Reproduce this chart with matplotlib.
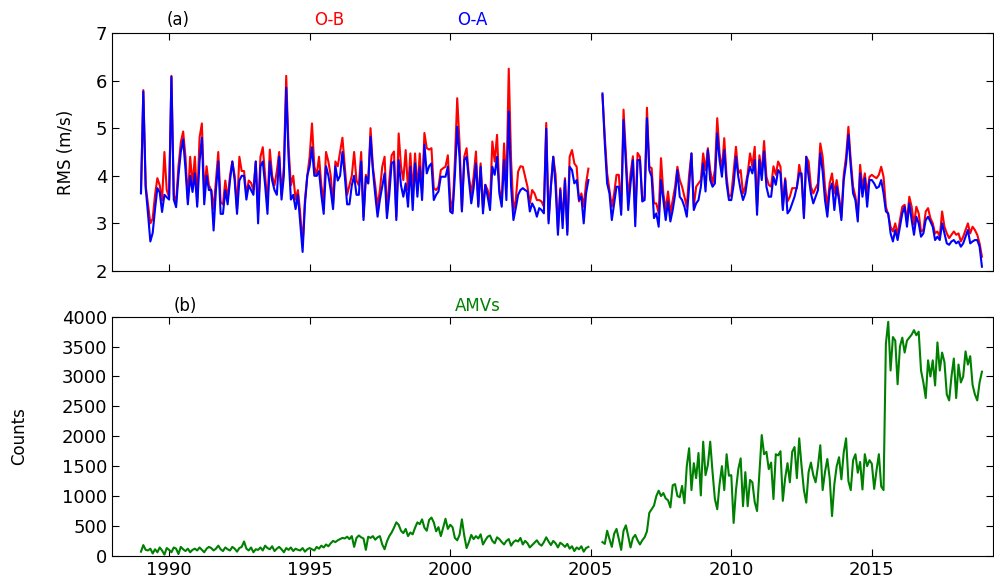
import numpy as np
import matplotlib
matplotlib.use("Agg")
import matplotlib.pyplot as plt

# monthly values, Jan 1989 - Dec 2004 and Jun 2005 - Dec 2018 (gap Jan-May 2005)
ob_1989_2004 = [
    3.65, 5.8, 3.8, 3.4, 3.0, 3.1, 3.6, 3.95, 3.8, 3.48,
    4.5, 3.7, 3.55, 6.1, 3.6, 3.45, 4.2, 4.7, 4.93, 4.4,
    3.5, 4.4, 3.8, 4.4, 3.45, 4.8, 5.1, 3.6, 4.2, 3.8,
    3.7, 3.3, 3.9, 4.5, 3.45, 3.4, 3.9, 3.5, 4.0, 4.3,
    4.0, 3.3, 4.4, 4.1, 4.1, 3.6, 3.9, 3.85, 3.7, 4.3,
    3.2, 4.4, 4.6, 4.0, 3.4, 4.55, 4.0, 3.8, 4.1, 4.5,
    3.6, 4.2, 6.1, 4.6, 3.8, 4.0, 3.5, 3.7, 3.2, 2.55,
    3.5, 4.0, 4.4, 5.1, 4.2, 4.0, 4.4, 3.8, 3.45, 4.5,
    4.3, 4.0, 3.4, 4.3, 4.2, 4.5, 4.8, 4.2, 3.6, 3.8,
    4.0, 4.5, 3.9, 3.8, 4.5,
    3.14, 4.02, 3.84, 5.0, 4.19, 3.8, 3.35, 3.7, 4.19, 4.4,
    3.21, 3.9, 4.43, 4.51, 3.14, 4.89, 4.2, 3.91, 4.54, 3.7,
    4.47, 3.63, 4.47, 3.7, 4.47, 3.63, 4.9, 4.58, 4.55, 4.58,
    3.74, 3.7, 3.77, 4.12, 4.16, 4.19, 4.43, 3.53, 3.25, 4.3,
    5.63, 4.68, 3.28, 4.4, 4.58, 3.98, 3.63, 3.98, 4.51, 3.39,
    4.26, 3.32, 3.81, 3.7, 3.42, 4.72, 4.3, 4.86, 3.7, 3.49,
    4.68, 3.77, 6.25, 4.33, 3.28, 3.49, 4.09, 4.2, 4.19, 3.98,
    3.77, 3.42, 3.7, 3.63, 3.49, 3.49, 3.46, 3.35, 5.11, 3.07,
    3.8, 4.4, 4.02, 2.86, 3.74, 3.07, 3.95, 2.83, 4.4, 4.54,
    4.26, 4.19, 3.46, 3.63, 3.35, 3.84, 4.15,
]
oa_1989_2004 = [
    3.63, 5.77, 3.75, 3.2, 2.62, 2.8, 3.3, 3.74, 3.65, 3.24,
    3.6, 3.55, 3.5, 6.08, 3.5, 3.34, 4.0, 4.5, 4.76, 4.14,
    3.4, 4.0, 3.66, 4.05, 3.35, 4.3, 4.8, 3.4, 4.0, 3.7,
    3.7, 2.85, 3.7, 4.3, 3.2, 3.2, 3.7, 3.4, 3.9, 4.3,
    3.9, 3.2, 3.9, 4.0, 4.0, 3.5, 3.8, 3.7, 3.6, 4.3,
    3.0, 4.2, 4.3, 3.8, 3.2, 4.3, 3.9, 3.7, 3.6, 4.4,
    3.5, 4.0, 5.85, 4.4, 3.5, 3.6, 3.3, 3.6, 3.0, 2.4,
    3.4, 4.0, 4.2, 4.6, 4.0, 4.0, 4.1, 3.6, 3.2, 4.2,
    4.0, 3.7, 3.3, 4.2, 3.9, 4.0, 4.5, 4.0, 3.4, 3.4,
    3.8, 4.0, 3.6, 3.6, 4.3,
    3.07, 3.98, 3.84, 4.82, 4.12, 3.6, 3.14, 3.5, 3.77, 4.05,
    3.11, 3.6, 4.26, 4.3, 3.07, 4.33, 3.8, 3.56, 3.84, 3.35,
    4.19, 3.28, 4.26, 3.56, 4.19, 3.49, 4.65, 4.05, 4.2, 4.26,
    3.49, 3.6, 3.67, 3.98, 3.98, 3.98, 4.19, 3.25, 3.21, 4.0,
    5.03, 4.4, 3.25, 4.33, 4.4, 3.91, 3.42, 3.74, 4.26, 3.35,
    4.19, 3.21, 3.81, 3.56, 3.28, 4.19, 4.02, 4.4, 3.63, 3.35,
    4.33, 3.49, 5.35, 3.77, 3.07, 3.32, 3.6, 3.7, 3.74, 3.7,
    3.67, 3.25, 3.42, 3.32, 3.14, 3.32, 3.28, 3.21, 4.99, 3.0,
    3.77, 4.4, 3.77, 2.76, 3.7, 2.9, 3.91, 2.76, 4.19, 4.12,
    3.84, 3.91, 3.49, 3.56, 3.0, 3.63, 3.91,
]
ob_2005_2018 = [
    5.7, 4.82, 4.05, 3.7, 3.35, 3.63, 4.02, 4.02, 3.28, 5.39,
    4.47, 3.49, 4.05, 4.41, 3.14, 4.48, 4.4, 3.49, 3.56, 5.43,
    4.19, 4.16, 3.42, 3.42, 3.21, 4.37, 3.63, 3.28, 3.67, 3.21,
    3.49, 3.77, 4.19, 3.91, 3.77, 3.56, 3.35, 4.02, 4.47, 3.35,
    3.77, 3.84, 3.91, 4.47, 4.12, 4.58, 4.12, 3.84, 4.12, 5.21,
    4.47, 4.12, 4.79, 3.98, 3.56, 3.6, 4.09, 4.61, 4.05, 4.12,
    3.63, 3.77, 4.05, 4.47, 4.19, 4.61, 3.35, 4.43, 4.05, 4.73,
    3.98, 3.81, 3.77, 4.2, 4.02, 4.3, 4.19, 3.35, 3.95, 3.46,
    3.56, 3.74, 3.74, 3.74, 4.23, 3.95, 3.18, 4.4, 4.3, 3.77,
    3.63, 3.74, 3.84, 4.68, 4.4, 3.77, 3.35, 3.84, 4.05, 3.63,
    3.91, 3.56, 3.14, 4.02, 4.4, 5.03, 4.33, 3.77, 3.56, 3.14,
    4.23, 3.74, 4.05, 3.63, 3.98, 4.02, 3.98, 3.95, 4.02, 4.19,
    3.98, 3.35, 3.18, 2.93, 2.83, 3.0, 2.76, 3.07, 3.35, 3.39,
    3.04, 3.56, 3.35, 2.97, 3.35, 3.21, 2.83, 2.86, 3.25, 3.32,
    3.11, 3.0, 2.79, 2.83, 2.72, 3.25, 2.93, 2.79, 2.69, 2.76,
    2.83, 2.76, 2.79, 2.62, 2.72, 2.86, 3.0, 2.79, 2.93, 2.86,
    2.76, 2.58, 2.3,
]
oa_2005_2018 = [
    5.73, 4.68, 3.84, 3.63, 3.07, 3.42, 3.77, 3.77, 3.18, 5.17,
    4.26, 3.28, 3.84, 4.33, 2.94, 4.33, 4.33, 3.46, 3.49, 5.21,
    4.12, 3.98, 3.11, 3.21, 2.93, 3.91, 3.49, 3.07, 3.46, 3.04,
    3.28, 3.6, 4.12, 3.56, 3.49, 3.35, 3.14, 3.77, 4.47, 3.28,
    3.42, 3.49, 3.77, 4.26, 3.67, 4.54, 3.91, 3.77, 3.84, 4.89,
    4.33, 3.98, 4.54, 3.84, 3.49, 3.49, 3.81, 4.4, 3.98, 3.7,
    3.49, 3.63, 3.98, 4.19, 4.05, 4.33, 3.18, 4.33, 3.91, 4.51,
    3.77, 3.56, 3.56, 3.98, 3.81, 4.12, 4.05, 3.28, 3.91, 3.21,
    3.28, 3.42, 3.56, 3.77, 4.05, 4.05, 3.11, 4.4, 3.98, 3.63,
    3.42, 3.56, 3.7, 4.47, 4.09, 3.49, 3.14, 3.7, 3.84, 3.28,
    3.77, 3.49, 3.07, 3.91, 4.26, 4.86, 4.19, 3.63, 3.49, 3.04,
    4.05, 3.56, 3.95, 3.35, 3.91, 3.91, 3.84, 3.74, 3.77, 3.91,
    3.63, 3.25, 3.21, 2.79, 2.62, 2.86, 2.65, 2.93, 3.21, 3.35,
    2.93, 3.42, 3.07, 2.76, 3.14, 3.0, 2.72, 2.79, 3.07, 3.14,
    3.04, 2.93, 2.65, 2.72, 2.65, 3.0, 2.79, 2.58, 2.55, 2.62,
    2.65, 2.58, 2.62, 2.51, 2.58, 2.72, 2.86, 2.58, 2.62, 2.65,
    2.65, 2.51, 2.09,
]
amv_1989_2004 = [
    70, 180, 100, 90, 120, 40, 110, 60, 140, 90, 20, 130,
    100, 60, 140, 120, 30, 150, 110, 80, 120, 60, 100, 120,
    90, 140, 100, 60, 120, 150, 130, 90, 120, 170, 110, 80,
    140, 110, 90, 150, 120, 70, 130, 150, 240, 120, 90, 140,
    60, 110, 100, 140, 90, 170, 130, 110, 160, 80, 120, 150,
    110, 60, 130, 100, 140, 80, 120, 100, 90, 130, 70, 110,
    130, 110, 90, 150, 120, 170, 140, 190, 160, 210, 250, 230,
    260, 280, 300, 290, 320, 280, 330, 150, 300, 340, 310, 290,
    100, 320, 300, 330, 270, 310, 330, 190, 110, 240, 330, 390,
    470, 560, 520, 420, 380, 450, 330, 390, 360, 470, 560, 530,
    610, 470, 420, 600, 640, 560, 410, 480, 330, 470, 620, 450,
    520, 480, 300, 260, 350, 610, 340, 130, 230, 350, 280, 330,
    290, 360, 190, 260, 320, 340, 250, 210, 310, 280, 230, 190,
    250, 280, 170, 230, 260, 240, 300, 190, 250, 210, 140, 180,
    220, 260, 200, 170, 230, 310, 240, 180, 250, 210, 140, 220,
    190, 150, 200, 120, 160, 80, 140, 110, 160, 70, 130, 150,
]
amv_2005_2018 = [
    230, 200, 420, 280, 150, 370, 450,
    280, 100, 420, 510, 330, 140, 300, 350, 260, 190, 260, 310,
    410, 720, 780, 840, 1000, 1090, 1000, 1050, 960, 930, 810, 1180,
    1200, 1000, 980, 1170, 880, 1500, 1800, 1100, 1550, 1300, 1720, 1010,
    1910, 1350, 1520, 1910, 1400, 950, 780, 1200, 1500, 1100, 1700, 1340,
    1350, 550, 1100, 1450, 1630, 830, 1400, 830, 1270, 1230, 900, 750,
    1400, 2020, 1700, 1740, 1450, 1560, 950, 1700, 1680, 1750, 920, 1300,
    1550, 1230, 1740, 1820, 1300, 1965, 1500, 1100, 890, 1400, 1560, 1350,
    1230, 1500, 1850, 1100, 1400, 1620, 1300, 665, 1200, 1500, 1650, 1280,
    1730, 1965, 1250, 1100, 1600, 1700, 1390, 1570, 1110, 1700, 1500, 1600,
    1540, 1120, 1430, 1700, 1160, 1100, 3550, 3915, 3100, 3660, 3600, 2870,
    3500, 3650, 3400, 3600, 3650, 3700, 3775, 3690, 3750, 3100, 2900, 2640,
    3270, 3000, 3270, 2850, 3570, 3100, 3400, 3240, 2700, 2600, 3000, 3300,
    2640, 3200, 2900, 3000, 3420, 3200, 3340, 2860, 2700, 2600, 2900, 3080,
]
n_gap = 5  # Jan-May 2005 missing


def join(a, b):
    return np.array(list(a) + [np.nan] * n_gap + list(b), dtype=float)


ob = join(ob_1989_2004, ob_2005_2018)
oa = join(oa_1989_2004, oa_2005_2018)
amv = join(amv_1989_2004, amv_2005_2018)
t = 1989 + np.arange(len(ob)) / 12.0

plt.rcParams['font.family'] = ['DejaVu Sans']
plt.rcParams['xtick.direction'] = 'in'
plt.rcParams['ytick.direction'] = 'in'
plt.rcParams['xtick.top'] = True
plt.rcParams['ytick.right'] = True
plt.rcParams['xtick.major.size'] = 5
plt.rcParams['ytick.major.size'] = 5

fig = plt.figure(figsize=(9.94, 5.79), dpi=100)
ax1 = fig.add_axes([0.1127, 0.532, 0.886, 0.411])
ax2 = fig.add_axes([0.1127, 0.040, 0.886, 0.413])

ax1.plot(t, ob, color='#ff0000', lw=1.5)
ax1.plot(t, oa, color='#0000ff', lw=1.5)
ax1.set_ylim(2, 7)
ax1.set_yticks([2, 3, 4, 5, 6, 7])
ax1.set_xlim(1987.97, 2019.3)
ax1.set_xticks([1990, 1995, 2000, 2005, 2010, 2015])
ax1.set_xticklabels([])
ax1.set_ylabel('RMS (m/s)', fontsize=12)
ax1.yaxis.set_label_coords(-0.042, 0.5)
ax1.tick_params(labelsize=13)
ax1.text(0.075, 1.035, '(a)', transform=ax1.transAxes, ha='center', fontsize=12)
ax1.text(0.247, 1.035, 'O-B', transform=ax1.transAxes, ha='center', fontsize=12, color='#ff0000')
ax1.text(0.409, 1.035, 'O-A', transform=ax1.transAxes, ha='center', fontsize=12, color='#0000ff')

ax2.plot(t, amv, color='#008000', lw=1.5)
ax2.set_ylim(0, 4000)
ax2.set_yticks(np.arange(0, 4001, 500))
ax2.set_xlim(1987.97, 2019.3)
ax2.set_xticks([1990, 1995, 2000, 2005, 2010, 2015])
ax2.set_ylabel('Counts', fontsize=12)
ax2.yaxis.set_label_coords(-0.095, 0.5)
ax2.tick_params(labelsize=13)
ax2.text(0.083, 1.025, '(b)', transform=ax2.transAxes, ha='center', fontsize=12)
ax2.text(0.415, 1.025, 'AMVs', transform=ax2.transAxes, ha='center', fontsize=12, color='#008000')

fig.savefig('out.png', dpi=100, facecolor='white')
